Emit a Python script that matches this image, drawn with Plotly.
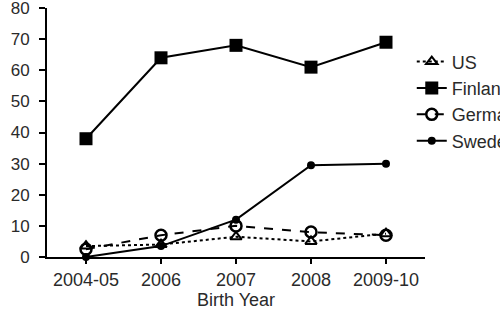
import plotly.graph_objects as go

categories = ["2004-05", "2006", "2007", "2008", "2009-10"]
us = [3.5, 4, 6.5, 5, 7.5]
finland = [38, 64, 68, 61, 69]
germany = [2.5, 7, 10, 8, 7]
sweden = [0, 3.5, 12, 29.5, 30]
y_ticks = [0, 10, 20, 30, 40, 50, 60, 70, 80]

x = list(range(len(categories)))
FONT = "Liberation Sans, Arial, sans-serif"

fig = go.Figure()
fig.add_trace(go.Scatter(x=x, y=us, name="US", mode="lines+markers",
    line=dict(color="black", width=2, dash="dot"),
    marker=dict(symbol="triangle-up-open", size=10, color="black", line=dict(width=2))))
fig.add_trace(go.Scatter(x=x, y=finland, name="Finland", mode="lines+markers",
    line=dict(color="black", width=2),
    marker=dict(symbol="square", size=13, color="black")))
fig.add_trace(go.Scatter(x=x, y=germany, name="Germany", mode="lines+markers",
    line=dict(color="black", width=2, dash="dash"),
    marker=dict(symbol="circle-open", size=11, color="black", line=dict(width=2.5))))
fig.add_trace(go.Scatter(x=x, y=sweden, name="Sweden", mode="lines+markers",
    line=dict(color="black", width=2),
    marker=dict(symbol="circle", size=8, color="black")))

for tr in fig.data:
    tr.cliponaxis = False

fig.update_layout(
    width=500, height=319,
    margin=dict(l=47, r=75, t=8, b=62, autoexpand=False),
    paper_bgcolor="white", plot_bgcolor="white",
    font=dict(family=FONT, size=18, color="#2a2a2a"),
    showlegend=True,
    legend=dict(x=0.965, y=0.858, xanchor="left", yanchor="top",
                font=dict(size=18), itemwidth=30, tracegroupgap=0,
                bgcolor="rgba(0,0,0,0)"),
    xaxis=dict(range=[-0.52, 4.52], tickmode="array", tickvals=x, ticktext=categories,
               showline=True, linecolor="black", linewidth=2, showgrid=False, zeroline=False,
               ticks="outside", ticklen=5, tickwidth=2, tickcolor="black",
               title=dict(text="Birth Year", font=dict(size=18), standoff=2)),
    yaxis=dict(range=[0, 80], tickmode="array", tickvals=y_ticks,
               showline=True, linecolor="black", linewidth=2, showgrid=False, zeroline=False,
               ticks="outside", ticklen=6, tickwidth=2, tickcolor="black",
               tickfont=dict(size=17),
               ticklabelstandoff=6, ticklabeloverflow="allow"),
)

fig.write_html("out.html", config={"displayModeBar": False},
               post_script="document.body.style.margin='0';")
